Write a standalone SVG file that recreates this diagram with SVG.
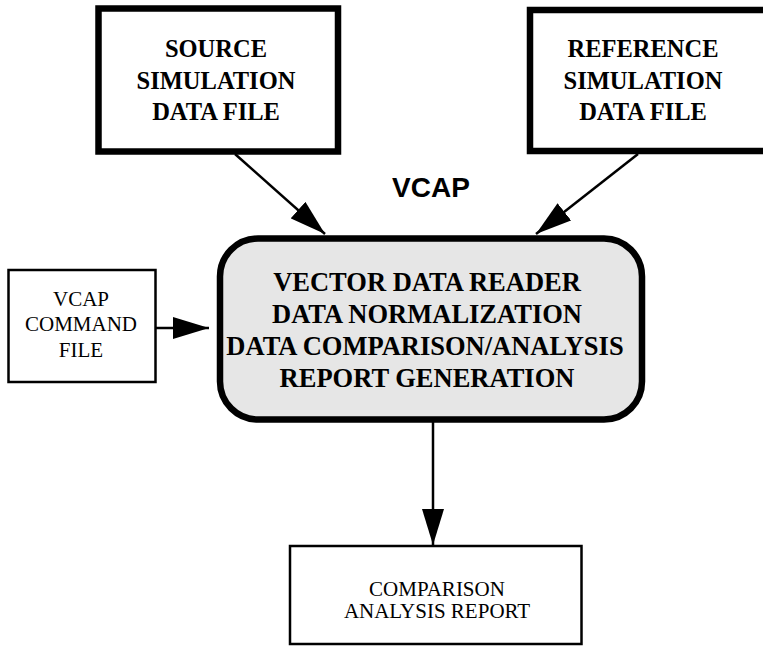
<svg xmlns="http://www.w3.org/2000/svg" width="763" height="646" viewBox="0 0 763 646">
<style>
.thick{fill:#fff;stroke:#000;stroke-width:6.5}
.thin{fill:#fff;stroke:#000;stroke-width:2.5}
.main{fill:#e6e6e6;stroke:#000;stroke-width:6.5}
.tb{font-family:"Liberation Serif","Times New Roman",serif;font-weight:bold;text-anchor:middle;fill:#000}
.tr{font-family:"Liberation Serif","Times New Roman",serif;text-anchor:middle;fill:#000}
.conn{stroke:#000;stroke-width:2.5;fill:none;marker-end:url(#ah)}
</style>
<defs>
<marker id="ah" markerUnits="userSpaceOnUse" markerWidth="36" markerHeight="22" refX="36" refY="11" orient="auto">
<path d="M0,0 L36,11 L0,22 Z" fill="#000"/>
</marker>
</defs>
<rect width="763" height="646" fill="#fff"/>
<g id="source">
<rect class="thick" x="98.5" y="8.5" width="239.5" height="143"/>
<text class="tb" font-size="24.5" x="216" y="57">SOURCE</text>
<text class="tb" font-size="24.5" x="216" y="89">SIMULATION</text>
<text class="tb" font-size="24.5" x="216" y="120">DATA FILE</text>
</g>
<g id="reference">
<rect class="thick" x="530" y="10" width="245" height="141"/>
<text class="tb" font-size="24.5" x="643" y="57">REFERENCE</text>
<text class="tb" font-size="24.5" x="643" y="89">SIMULATION</text>
<text class="tb" font-size="24.5" x="643" y="120">DATA FILE</text>
</g>
<g id="vcap-label">
<text x="431" y="197" font-family="'Liberation Sans',Arial,sans-serif" font-weight="bold" font-size="28" text-anchor="middle">VCAP</text>
</g>
<g id="vcap">
<rect class="main" x="220" y="238.5" width="422" height="181" rx="38" ry="38"/>
<text class="tb" font-size="26.5" x="427" y="291">VECTOR DATA READER</text>
<text class="tb" font-size="26.5" x="427" y="323">DATA NORMALIZATION</text>
<text class="tb" font-size="26.5" x="425" y="355">DATA COMPARISON/ANALYSIS</text>
<text class="tb" font-size="26.5" x="427" y="387">REPORT GENERATION</text>
</g>
<g id="command">
<rect class="thin" x="8.5" y="270" width="147" height="112"/>
<text class="tr" font-size="21" x="81" y="306">VCAP</text>
<text class="tr" font-size="21" x="81" y="331">COMMAND</text>
<text class="tr" font-size="21" x="81" y="357">FILE</text>
</g>
<g id="report">
<rect class="thin" x="290" y="546" width="291.5" height="98"/>
<text class="tr" font-size="21" x="437" y="596">COMPARISON</text>
<text class="tr" font-size="21" x="437" y="618">ANALYSIS REPORT</text>
</g>
<g id="connectors">
<line class="conn" x1="235" y1="154" x2="325" y2="234"/>
<line class="conn" x1="638" y1="154" x2="536" y2="234"/>
<line class="conn" x1="156" y1="328" x2="209" y2="328"/>
<line class="conn" x1="433" y1="422" x2="433" y2="545"/>
</g>
</svg>
